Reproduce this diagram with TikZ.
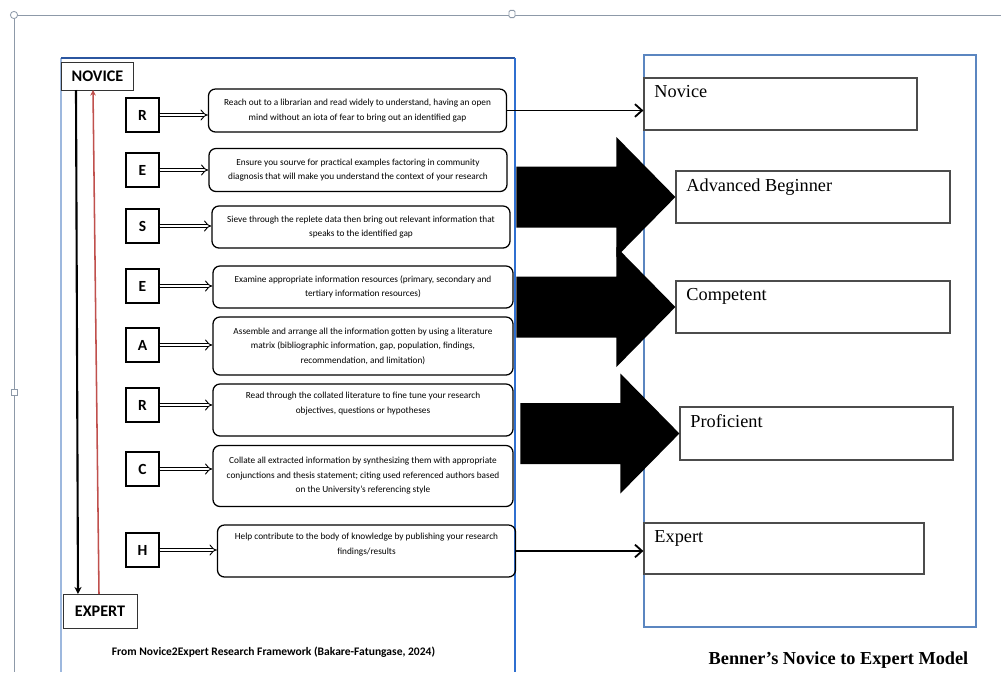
\documentclass[tikz,border=0pt]{standalone}
\usepackage{fontspec}
\setmainfont{Liberation Serif}
\newfontfamily\calfont{Carlito}
\usetikzlibrary{arrows.meta}
\definecolor{fblue} {HTML}{2F6FD0}
\definecolor{fdark} {HTML}{2B56A0}
\definecolor{flight}{HTML}{9DB8DE}
\definecolor{bblue} {HTML}{5B86C0}
\definecolor{sred}  {HTML}{C0504D}
\definecolor{hgrey} {HTML}{8D99A8}

\begin{document}
\begin{tikzpicture}[x=0.025cm, y=-0.025cm,
  lvl/.style  = {rectangle, draw=black!80, line width=0.6pt, fill=white,
                 inner sep=0pt, font=\calfont\bfseries\fontsize{11.5}{13}\selectfont},
  letr/.style = {rectangle, draw=black, line width=0.9pt,
                 minimum width=0.83cm, minimum height=0.85cm, inner sep=0pt,
                 font=\calfont\bfseries\fontsize{11}{13}\selectfont},
  desc/.style = {rectangle, rounded corners=5pt, draw=black, line width=0.9pt,
                 minimum width=7.45cm, align=center, inner sep=2pt,
                 font=\calfont\fontsize{6.6}{10.3}\selectfont},
  stage/.style = {rectangle, draw=black!70, line width=0.8pt, fill=white, inner sep=0pt},
  stxt/.style  = {anchor=north west, inner sep=0pt, xshift=0.27cm, yshift=-0.2cm,
                  font=\fontsize{13}{15}\selectfont},
  dbl/.style  = {double, double distance=2pt, line width=0.65pt, -{Implies}},
  link/.style = {-{Straight Barb[length=5pt,width=9pt]}, line width=1.3pt},
  handle/.style = {draw=hgrey, fill=white, line width=0.6pt, inner sep=0pt, minimum size=0.18cm}
]
\useasboundingbox (0,0) rectangle (1001,672);

% word frame handles
\draw[hgrey, line width=0.7pt] (14,15) -- (1001,15);
\draw[hgrey, line width=0.7pt] (14,15) -- (14,672);
\node[handle, circle] (h1) at (14,15) {};
\node[handle, rectangle, rounded corners=1pt, minimum width=0.15cm] (h2) at (512,14) {};
\node[handle, rectangle, minimum size=0.15cm] (h3) at (14,392) {};

% left frame
\draw[flight, line width=1.2pt] (61,58) -- (61,672);
\draw[fdark, line width=1.8pt] (61,58) -- (515,58);
\draw[fblue, line width=1.6pt] (515,58) -- (515,672);

% right frame
\draw[bblue, line width=1.8pt] (644,55) rectangle (976,627);

\node[lvl, minimum width=1.78cm, minimum height=0.7cm] (nov) at (97.5,76) {NOVICE};
\node[lvl, minimum width=1.85cm, minimum height=0.85cm] (exp) at (100,611) {EXPERT};
\draw[-{Stealth[length=5pt,width=5pt]}, line width=1.5pt] (76,90) -- (78,594);
\draw[sred, -{Stealth[length=4pt,width=4pt]}, line width=1.1pt] (99,594) -- (93,90);

% letters
\node[letr] (r1) at (142.5,115) {R};
\node[letr] (e1) at (142.5,170) {E};
\node[letr] (s)  at (142.5,226) {S};
\node[letr] (e2) at (142.5,286) {E};
\node[letr] (a)  at (142.5,345) {A};
\node[letr] (r2) at (142.5,405) {R};
\node[letr] (c)  at (142.5,469) {C};
\node[letr] (h)  at (142.5,550) {H};

% steps
\node[desc, minimum height=1.075cm] (t1) at (357.5,110.5)
  {Reach out to a librarian and read widely to understand, having an open\\
   mind without an iota of fear to bring out an identified gap};
\node[desc, minimum height=1.075cm] (t2) at (358,170)
  {Ensure you sourve for practical examples factoring in community\\
   diagnosis that will make you understand the context of your research};
\node[desc, minimum height=1.05cm] (t3) at (361,227)
  {Sieve through the replete data then bring out relevant information that\\
   speaks to the identified gap};
\node[desc, minimum height=1.05cm, minimum width=7.5cm] (t4) at (363,287)
  {Examine appropriate information resources (primary, secondary and\\
   tertiary information resources)};
\node[desc, minimum height=1.45cm, minimum width=7.5cm] (t5) at (363,346)
  {Assemble and arrange all the information gotten by using a literature\\
   matrix (bibliographic information, gap, population, findings,\\
   recommendation, and limitation)};
\node[desc, minimum height=1.3cm, minimum width=7.5cm] (t6) at (363,410)
  {Read through the collated literature to fine tune your research\\
   objectives, questions or hypotheses\\ \mbox{}};
\node[desc, minimum height=1.525cm, minimum width=7.5cm] (t7) at (363,476)
  {Collate all extracted information by synthesizing them with appropriate\\
   conjunctions and thesis statement; citing used referenced authors based\\
   on the University’s referencing style};
\node[desc, minimum height=1.3cm] (t8) at (366.5,551)
  {Help contribute to the body of knowledge by publishing your research\\
   findings/results\\ \mbox{}};

\draw[dbl] (r1) -- (t1.west |- r1);
\draw[dbl] (e1) -- (t2.west |- e1);
\draw[dbl] (s)  -- (t3.west |- s);
\draw[dbl] (e2) -- (t4.west |- e2);
\draw[dbl] (a)  -- (t5.west |- a);
\draw[dbl] (r2) -- (t6.west |- r2);
\draw[dbl] (c)  -- (t7.west |- c);
\draw[dbl] (h)  -- (t8.west |- h);

% Benner stages
\node[stage, minimum width=6.825cm, minimum height=1.3cm,
      label={[stxt]north west:Novice}] (bnov) at (780.5,104) {};
\node[stage, minimum width=6.85cm, minimum height=1.3cm,
      label={[stxt]north west:Advanced Beginner}] (adv) at (813,197) {};
\node[stage, minimum width=6.85cm, minimum height=1.3cm,
      label={[stxt]north west:Competent}] (comp) at (813,307) {};
\node[stage, minimum width=6.825cm, minimum height=1.325cm,
      label={[stxt]north west:Proficient}] (prof) at (816.5,433.5) {};
\node[stage, minimum width=7cm, minimum height=1.275cm,
      label={[stxt]north west:Expert}] (bexp) at (784,548.5) {};

% block arrows
\foreach \s in {adv,comp,prof}
  \fill (\s.west) -- ++(-59,-60) -- ++(0,29.5) -- ++(-100,0) -- ++(0,61)
        -- ++(100,0) -- ++(0,29.5) -- cycle;

\draw[link] (t1.east) -- (t1.east -| bnov.west);
\draw[link] (t8.east) -- (t8.east -| bexp.west);

\node[font=\calfont\bfseries\fontsize{8.2}{10}\selectfont] (src) at (273.5,652)
  {From Novice2Expert Research Framework (Bakare-Fatungase, 2024)};
\node[font=\bfseries\fontsize{13}{15}\selectfont] (ttl) at (838.5,660)
  {Benner’s Novice to Expert Model};
\end{tikzpicture}
\end{document}
